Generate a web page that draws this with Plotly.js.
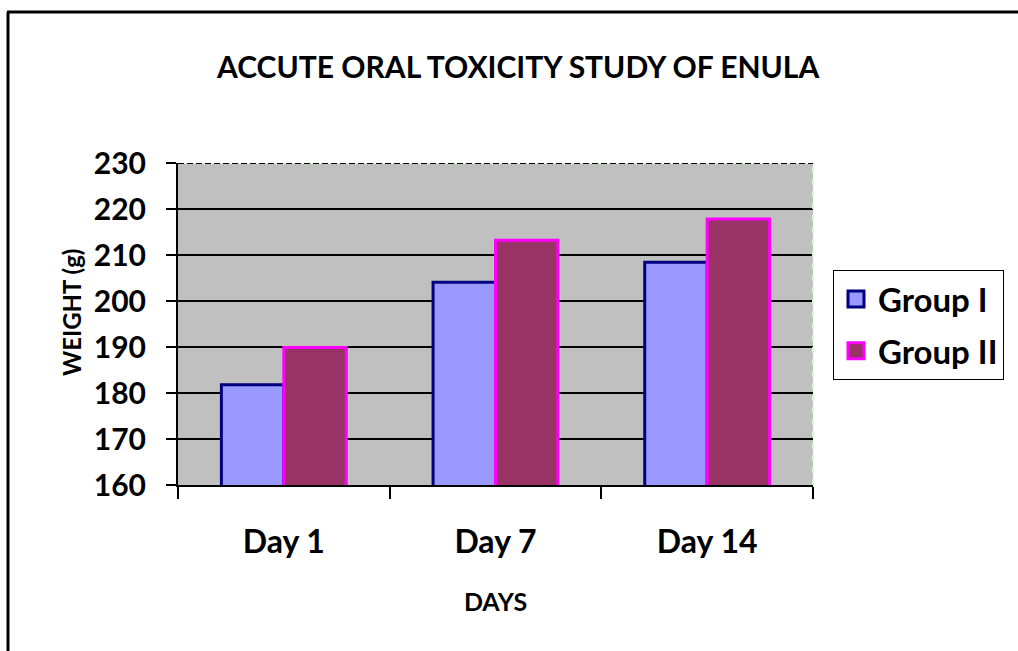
<!DOCTYPE html>
<html>
<head>
<meta charset="utf-8">
<script src="https://cdn.plot.ly/plotly-3.0.1.min.js"></script>
<style>html,body{margin:0;padding:0;background:#fff;}#chart{width:1018px;height:651px;}</style>
</head>
<body>
<div id="chart"></div>
<script>
var categories = ["Day 1", "Day 7", "Day 14"];
var groupI = [181.8, 204.1, 208.4];
var groupII = [189.9, 213.2, 217.8];
var seriesNames = ["Group I", "Group II"];
var yTicks = [160, 170, 180, 190, 200, 210, 220, 230];
var yTitle = "WEIGHT (g)";

var W = 1018, H = 651;
var M = {l: 178, r: 205, t: 163, b: 166};
function px(x) { return (x - M.l) / (W - M.l - M.r); }
function py(y) { return (H - M.b - y) / (H - M.t - M.b); }

var FONT = "Lato, 'Open Sans', sans-serif";
var fills = ["#9999FF", "#993366"];
var edges = ["#000080", "#FF00FF"];

var traces = [
  {type: "bar", x: categories, y: groupI, name: seriesNames[0], showlegend: false,
   marker: {color: fills[0], line: {color: edges[0], width: 3}}, hoverinfo: "x+y"},
  {type: "bar", x: categories, y: groupII, name: seriesNames[1], showlegend: false,
   marker: {color: fills[1], line: {color: edges[1], width: 3}}, hoverinfo: "x+y"},
  {type: "scatter", mode: "markers", x: [null], y: [null], name: seriesNames[0], legendgroup: "a",
   marker: {symbol: "square", size: 20, color: fills[0], line: {color: edges[0], width: 3}}, hoverinfo: "skip"},
  {type: "scatter", mode: "markers", x: [null], y: [null], name: seriesNames[1], legendgroup: "b",
   marker: {symbol: "square", size: 20, color: fills[1], line: {color: edges[1], width: 3}}, hoverinfo: "skip"}
];

var layout = {
  width: W, height: H,
  margin: M,
  paper_bgcolor: "#ffffff",
  plot_bgcolor: "#C0C0C0",
  barmode: "group",
  bargap: 0.41,
  bargroupgap: 0,
  font: {family: FONT, color: "#000", size: 24},
  title: {text: "<b>ACCUTE ORAL TOXICITY STUDY OF ENULA</b>", font: {family: FONT, size: 30, color: "#000"},
          x: 0.509, xanchor: "center", y: 1 - 67 / H, yanchor: "middle"},
  xaxis: {
    type: "category",
    showline: true, linecolor: "#000", linewidth: 2,
    ticks: "outside", ticklen: 12, tickwidth: 2, tickcolor: "#000",
    tickson: "boundaries",
    ticklabelstandoff: 28,
    showgrid: false,
    tickfont: {family: FONT, size: 32, color: "#000", weight: "bold"},
    title: {text: "<b>DAYS</b>", font: {family: FONT, size: 25, color: "#000"}, standoff: 34},
    fixedrange: true
  },
  yaxis: {
    range: [160, 230],
    tickvals: yTicks,
    showline: true, linecolor: "#000", linewidth: 2,
    ticks: "outside", ticklen: 10, tickwidth: 2, tickcolor: "#000",
    ticklabelstandoff: 14,
    showgrid: true, gridcolor: "#000", gridwidth: 2,
    tickfont: {family: FONT, size: 30, color: "#000", weight: "bold"},
    fixedrange: true
  },
  annotations: [
    {text: "<b>" + yTitle + "</b>", xref: "paper", yref: "paper", x: px(71), y: py(312),
     xanchor: "center", yanchor: "middle", textangle: -90, showarrow: false,
     font: {family: FONT, size: 24, color: "#000"}}
  ],
  legend: {
    x: px(833), y: py(270), xanchor: "left", yanchor: "top",
    bgcolor: "#fff", bordercolor: "#000", borderwidth: 1,
    font: {family: FONT, size: 33, color: "#000", weight: "bold"},
    itemwidth: 34,
    traceorder: "grouped", tracegroupgap: 6
  },
  shapes: [
    {type: "line", xref: "paper", yref: "y", x0: 0, x1: 1, y0: 230, y1: 230, line: {color: "#CCFFCC", width: 2}},
    {type: "line", xref: "paper", yref: "y", x0: 0, x1: 1, y0: 230, y1: 230, line: {color: "#000", width: 2, dash: "6px,3px"}},
    {type: "line", xref: "paper", yref: "paper", x0: 1, x1: 1, y0: 0, y1: 1, line: {color: "#CCFFCC", width: 2, dash: "6px,6px"}},
    {type: "line", xref: "paper", yref: "paper", x0: px(8), x1: px(8), y0: py(12), y1: py(H + 5), line: {color: "#000", width: 3}},
    {type: "line", xref: "paper", yref: "paper", x0: px(7), x1: px(W + 5), y0: py(12), y1: py(12), line: {color: "#000", width: 3}}
  ]
};

Plotly.newPlot("chart", traces, layout, {displayModeBar: false, staticPlot: true});
</script>
</body>
</html>
